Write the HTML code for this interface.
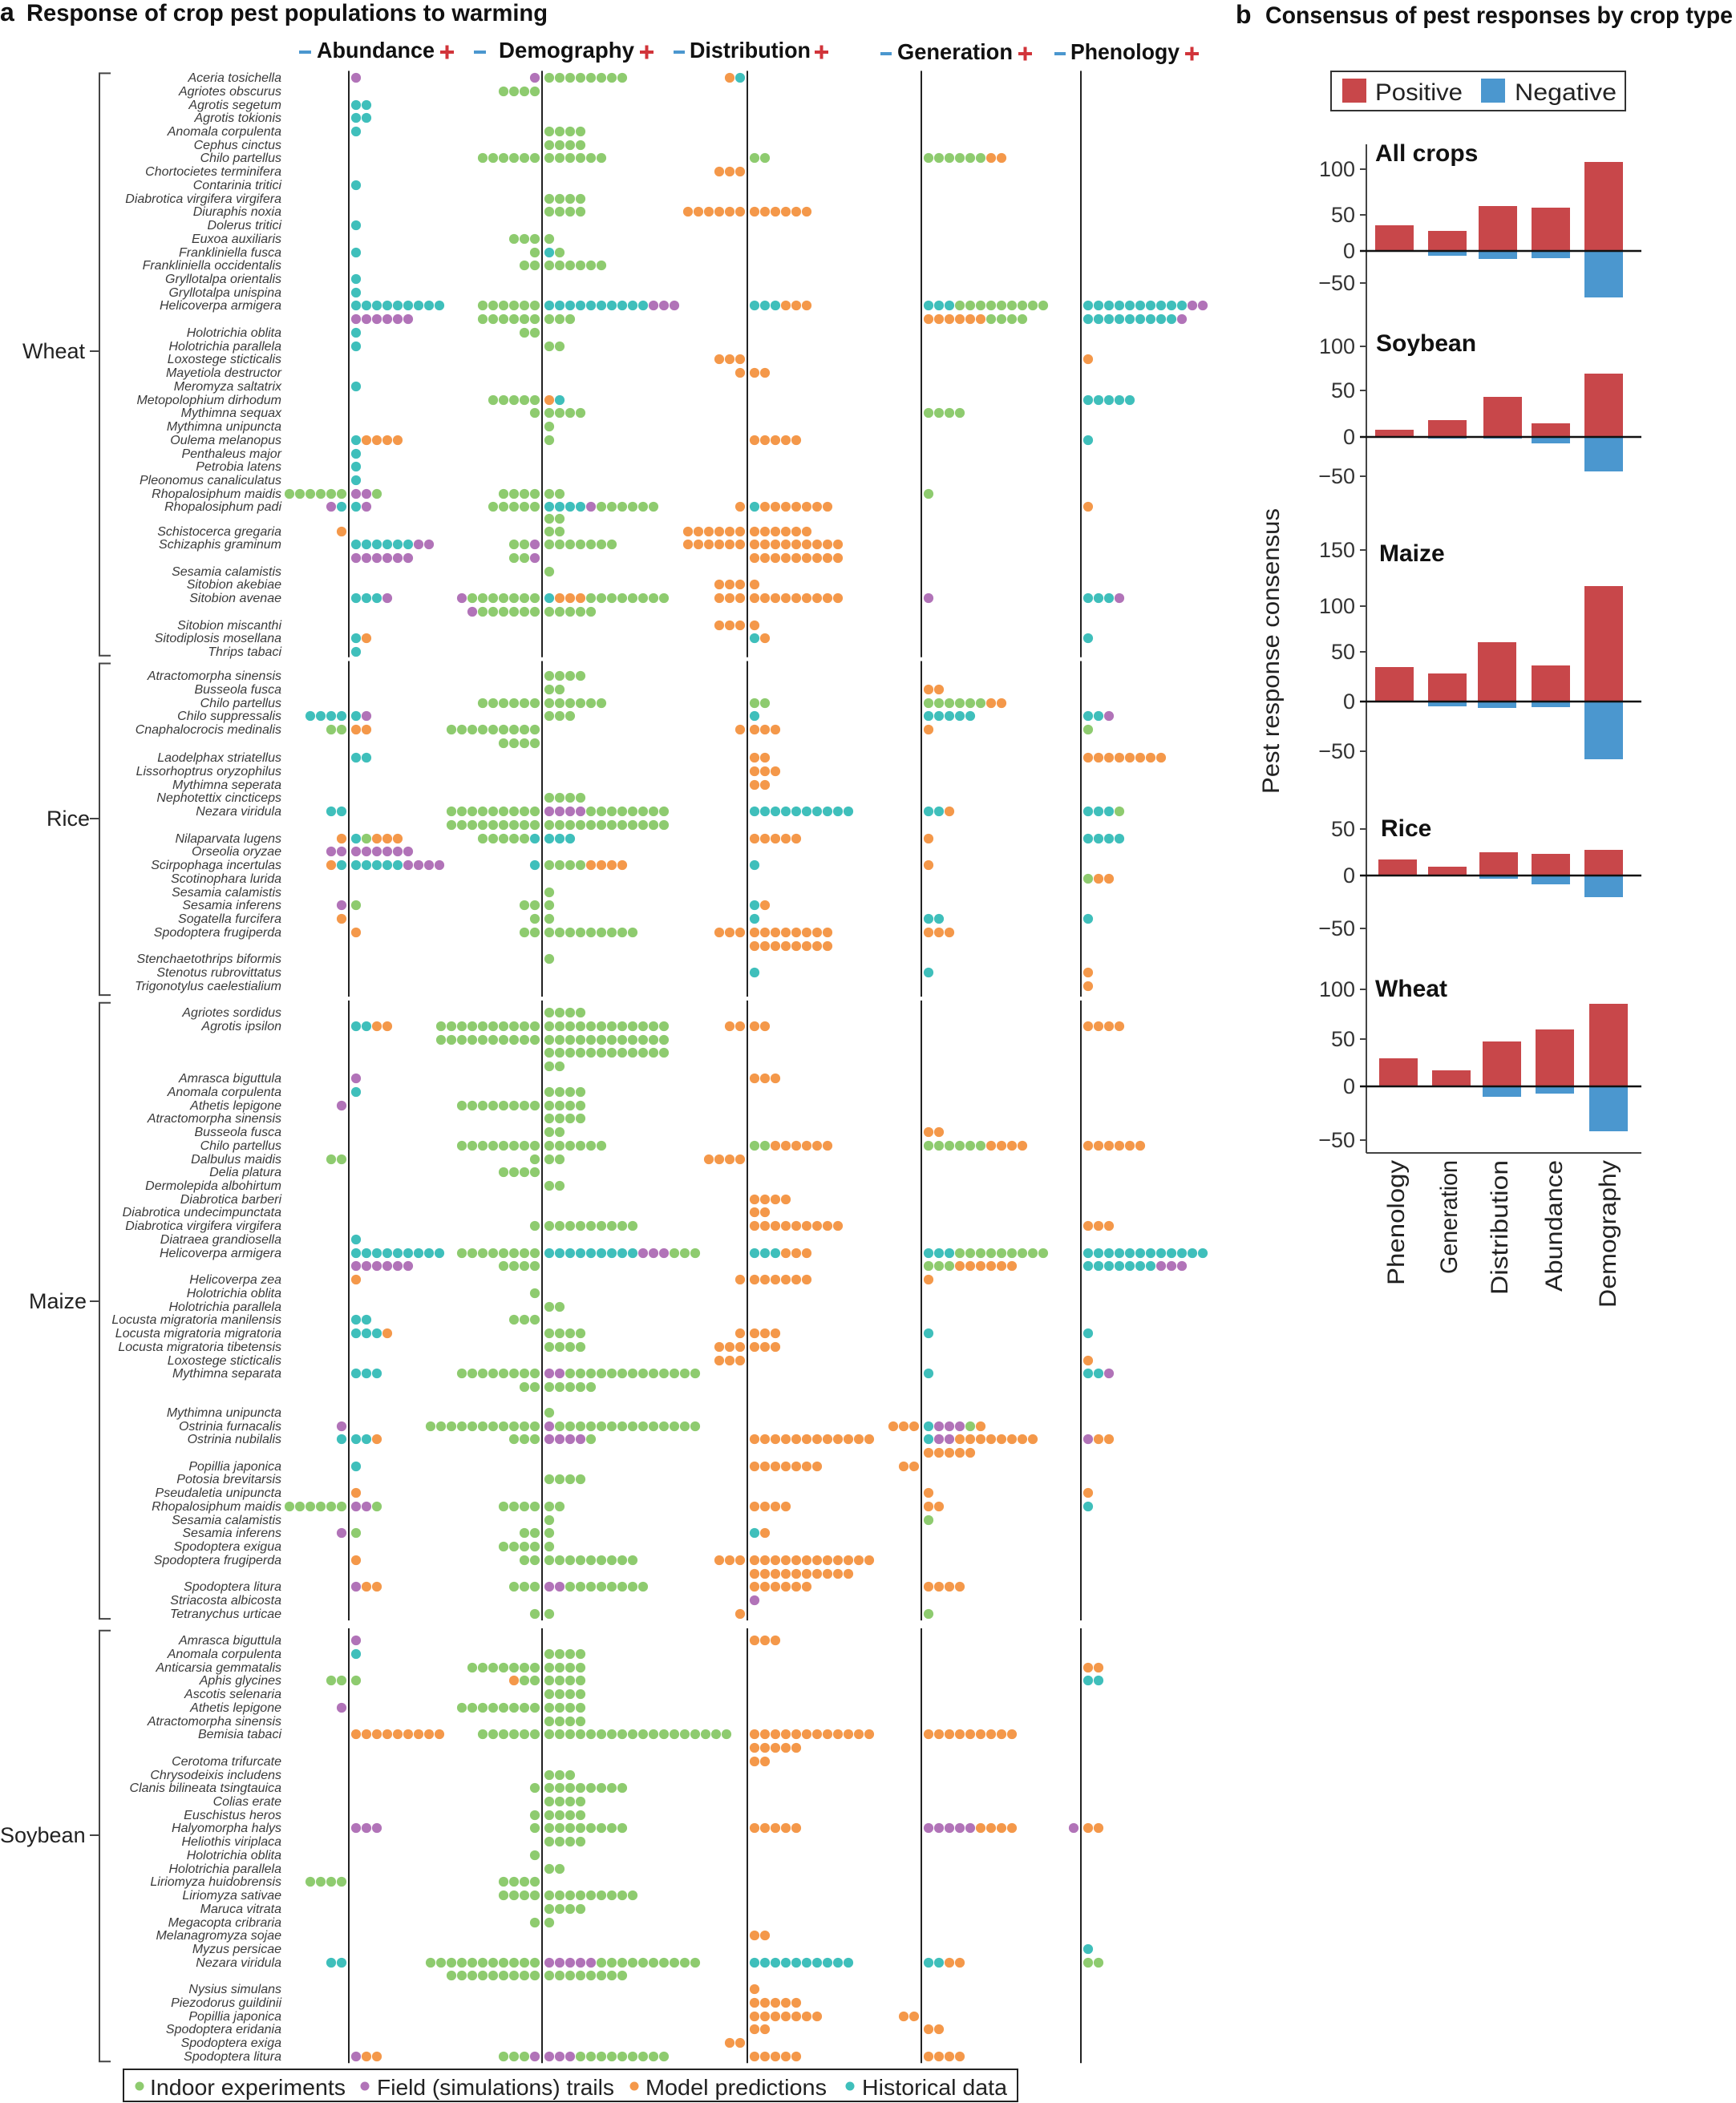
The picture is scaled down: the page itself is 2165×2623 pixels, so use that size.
<!DOCTYPE html>
<html><head><meta charset="utf-8">
<style>
html,body{margin:0;padding:0;background:#fff;}
svg{display:block;font-family:"Liberation Sans",sans-serif;}
</style></head>
<body>
<svg id="s" width="2165" height="2623" viewBox="0 0 2165 2623" xmlns="http://www.w3.org/2000/svg">
<text x="0" y="26" font-size="32" font-weight="bold" fill="#111">a</text>
<text x="33" y="26" font-size="30" font-weight="bold" fill="#111" textLength="650" lengthAdjust="spacingAndGlyphs">Response of crop pest populations to warming</text>
<text x="1541" y="29" font-size="32" font-weight="bold" fill="#111">b</text>
<text x="1578" y="29" font-size="30" font-weight="bold" fill="#111" textLength="583" lengthAdjust="spacingAndGlyphs">Consensus of pest responses by crop type</text>

<g font-size="28" font-weight="bold" fill="#111">
<rect x="373" y="63" width="15" height="4" fill="#4b97cf"/>
<text x="395" y="72" textLength="147" lengthAdjust="spacingAndGlyphs">Abundance</text>
<rect x="549" y="63" width="17" height="4" fill="#d1343a"/><rect x="555.5" y="56.5" width="4" height="17" fill="#d1343a"/>
<rect x="591" y="63" width="15" height="4" fill="#4b97cf"/>
<text x="622" y="72" textLength="169" lengthAdjust="spacingAndGlyphs">Demography</text>
<rect x="798" y="63" width="17" height="4" fill="#d1343a"/><rect x="804.5" y="56.5" width="4" height="17" fill="#d1343a"/>
<rect x="840" y="63" width="14" height="4" fill="#4b97cf"/>
<text x="860" y="72" textLength="151" lengthAdjust="spacingAndGlyphs">Distribution</text>
<rect x="1016" y="63" width="17" height="4" fill="#d1343a"/><rect x="1022.5" y="56.5" width="4" height="17" fill="#d1343a"/>
<rect x="1098" y="65" width="14" height="4" fill="#4b97cf"/>
<text x="1119" y="74" textLength="144" lengthAdjust="spacingAndGlyphs">Generation</text>
<rect x="1270" y="65" width="17" height="4" fill="#d1343a"/><rect x="1276.5" y="58.5" width="4" height="17" fill="#d1343a"/>
<rect x="1315" y="65" width="14" height="4" fill="#4b97cf"/>
<text x="1335" y="74" textLength="136" lengthAdjust="spacingAndGlyphs">Phenology</text>
<rect x="1478" y="65" width="17" height="4" fill="#d1343a"/><rect x="1484.5" y="58.5" width="4" height="17" fill="#d1343a"/>
</g>

<g id="dots"></g>

<g font-size="27" fill="#222">
<text x="28" y="447">Wheat</text><rect x="112" y="437" width="12" height="2" fill="#444"/>
<text x="58" y="1030">Rice</text><rect x="112" y="1020" width="12" height="2" fill="#444"/>
<text x="36" y="1632">Maize</text><rect x="112" y="1622" width="12" height="2" fill="#444"/>
<text x="0" y="2298">Soybean</text><rect x="112" y="2288" width="12" height="2" fill="#444"/>
</g>

<rect x="154" y="2581" width="1115" height="40" fill="#fff" stroke="#222" stroke-width="2"/>
<g font-size="28" fill="#222">
<circle cx="174" cy="2602" r="5.5" fill="#8ecb6f"/><text x="187" y="2613" textLength="244" lengthAdjust="spacingAndGlyphs">Indoor experiments</text>
<circle cx="455" cy="2602" r="5.5" fill="#b173b8"/><text x="470" y="2613" textLength="296" lengthAdjust="spacingAndGlyphs">Field (simulations) trails</text>
<circle cx="791" cy="2602" r="5.5" fill="#f4984a"/><text x="805" y="2613" textLength="226" lengthAdjust="spacingAndGlyphs">Model predictions</text>
<circle cx="1060" cy="2602" r="5.5" fill="#3fbfbb"/><text x="1075" y="2613" textLength="181" lengthAdjust="spacingAndGlyphs">Historical data</text>
</g>

<rect x="1660" y="89" width="367" height="49" fill="#fff" stroke="#333" stroke-width="2"/>
<rect x="1674" y="98" width="30" height="30" fill="#c8474a"/>
<text x="1715" y="125" font-size="30" fill="#222" textLength="109" lengthAdjust="spacingAndGlyphs">Positive</text>
<rect x="1847" y="98" width="30" height="30" fill="#4b97cf"/>
<text x="1889" y="125" font-size="30" fill="#222" textLength="127" lengthAdjust="spacingAndGlyphs">Negative</text>

<g id="bars"></g>

<text transform="translate(1595,812) rotate(-90)" text-anchor="middle" font-size="30" fill="#222" textLength="356" lengthAdjust="spacingAndGlyphs">Pest response consensus</text>
</svg>
<script>
var NS="http://www.w3.org/2000/svg";
function el(p,t,a,txt){var e=document.createElementNS(NS,t);for(var k in a)e.setAttribute(k,a[k]);if(txt!==undefined)e.textContent=txt;p.appendChild(e);return e;}
var C={G:"#8ecb6f",P:"#b173b8",O:"#f4984a",T:"#3fbfbb"};
var L={a:435,d:676,i:932,g:1149,p:1348};
var groups=[
{y0:57,y1:487,rows:[
[58,"Aceria tosichella","A:P d:P D:GGGGGGGG i:OT"],
[68,"Agriotes obscurus","d:GGGG"],
[78,"Agrotis segetum","A:TT"],
[88,"Agrotis tokionis","A:TT"],
[98,"Anomala corpulenta","A:T D:GGGG"],
[108,"Cephus cinctus","D:GGGG"],
[118,"Chilo partellus","d:GGGGGG D:GGGGGG I:GG G:GGGGGGOO"],
[128,"Chortocietes terminifera","i:OOO"],
[138,"Contarinia tritici","A:T"],
[148,"Diabrotica virgifera virgifera","D:GGGG"],
[158,"Diuraphis noxia","D:GGGG i:OOOOOO I:OOOOOO"],
[168,"Dolerus tritici","A:T"],
[178,"Euxoa auxiliaris","d:GGG D:G"],
[188,"Frankliniella fusca","A:T d:G D:TG"],
[198,"Frankliniella occidentalis","d:GG D:GGGGGG"],
[208,"Gryllotalpa orientalis","A:T"],
[218,"Gryllotalpa unispina","A:T"],
[228,"Helicoverpa armigera","A:TTTTTTTTT d:GGGGGG D:TTTTTTTTTTPPP I:TTTOOO G:TTTGGGGGGGGG P:TTTTTTTTTTPP"],
[238,"","A:PPPPPP d:GGGGGG D:GGG G:OOOOOOGGGG P:TTTTTTTTTP"],
[248,"Holotrichia oblita","A:T d:GG"],
[258,"Holotrichia parallela","A:T D:GG"],
[268,"Loxostege sticticalis","i:OOO P:O"],
[278,"Mayetiola destructor","i:O I:OO"],
[288,"Meromyza saltatrix","A:T"],
[298,"Metopolophium dirhodum","d:GGGGG D:OT P:TTTTT"],
[308,"Mythimna sequax","d:G D:GGGG G:GGGG"],
[318,"Mythimna unipuncta","D:G"],
[328,"Oulema melanopus","A:TOOOO D:G I:OOOOO P:T"],
[338,"Penthaleus major","A:T"],
[348,"Petrobia latens","A:T"],
[358,"Pleonomus canaliculatus","A:T"],
[368,"Rhopalosiphum maidis","a:GGGGGG A:PPG d:GGGG D:GG G:G"],
[378,"Rhopalosiphum padi","a:PT A:TP d:GGGGG D:TTTTPGGGGGG i:O I:TOOOOOOO P:O"],
[387,"","D:GG"],
[396,"Schistocerca gregaria","a:O D:GG i:OOOOOO I:OOOOOO"],
[406,"Schizaphis graminum","A:TTTTTTPP d:GGP D:GGGGGGG i:OOOOOO I:OOOOOOOOO"],
[416,"","A:PPPPPP d:GGP I:OOOOOOOOO"],
[426,"Sesamia calamistis","D:G"],
[436,"Sitobion akebiae","i:OOO I:O"],
[446,"Sitobion avenae","A:TTTP d:PGGGGGGG D:TOOOGGGGGGGG i:OOO I:OOOOOOOOO G:P P:TTTP"],
[456,"","d:PGGGGGG D:GGGGG"],
[466,"Sitobion miscanthi","i:OOO I:O"],
[476,"Sitodiplosis mosellana","A:TO I:TO P:T"],
[486,"Thrips tabaci","A:T"]]},
{y0:497,y1:740,rows:[
[504,"Atractomorpha sinensis","D:GGGG"],
[514,"Busseola fusca","D:GG G:OO"],
[524,"Chilo partellus","d:GGGGGG D:GGGGGG I:GG G:GGGGGGOO"],
[534,"Chilo suppressalis","a:TTTT A:TP D:GGG I:T G:TTTTT P:TTP"],
[544,"Cnaphalocrocis medinalis","a:GG A:OO d:GGGGGGGGG i:O I:OOO G:O P:G"],
[554,"","d:GGGG"],
[565,"Laodelphax striatellus","A:TT I:OO P:OOOOOOOO"],
[575,"Lissorhoptrus oryzophilus","I:OOO"],
[585,"Mythimna seperata","I:OO"],
[595,"Nephotettix cincticeps","D:GGGG"],
[605,"Nezara viridula","a:TT d:GGGGGGGGG D:PPPPGGGGGGGG I:TTTTTTTTTT G:TTO P:TTTG"],
[615,"","d:GGGGGGGGG D:GGGGGGGGGGGG"],
[625,"Nilaparvata lugens","a:O A:TGOOO d:GGGGGT D:TTT I:OOOOO G:O P:TTTT"],
[635,"Orseolia oryzae","a:PP A:PPPPPP"],
[645,"Scirpophaga incertulas","a:OT A:TTTTTPPPP d:T D:GGGGOOOO I:T G:O"],
[655,"Scotinophara lurida","P:GOO"],
[665,"Sesamia calamistis","D:G"],
[675,"Sesamia inferens","a:P A:G d:GG D:G I:TO"],
[685,"Sogatella furcifera","a:O d:G D:G I:T G:TT P:T"],
[695,"Spodoptera frugiperda","A:O d:GG D:GGGGGGGGG i:OOO I:OOOOOOOO G:OOO"],
[705,"","I:OOOOOOOO"],
[715,"Stenchaetothrips biformis","D:G"],
[725,"Stenotus rubrovittatus","I:T G:T P:O"],
[735,"Trigonotylus caelestialium","P:O"]]},
{y0:750,y1:1205,rows:[
[755,"Agriotes sordidus","D:GGGG"],
[765,"Agrotis ipsilon","A:TTOO d:GGGGGGGGGG D:GGGGGGGGGGGG i:OO I:OO P:OOOO"],
[775,"","d:GGGGGGGGGG D:GGGGGGGGGGGG"],
[785,"","D:GGGGGGGGGGGG"],
[795,"","D:GG"],
[804,"Amrasca biguttula","A:P I:OOO"],
[814,"Anomala corpulenta","A:T D:GGGG"],
[824,"Athetis lepigone","a:P d:GGGGGGGG D:GGGG"],
[834,"Atractomorpha sinensis","D:GGGG"],
[844,"Busseola fusca","D:GG G:OO"],
[854,"Chilo partellus","d:GGGGGGGG D:GGGGGG I:GGOOOOOO G:GGGGGGOOOO P:OOOOOO"],
[864,"Dalbulus maidis","a:GG d:G D:GG i:OOOO"],
[874,"Delia platura","d:GGGG"],
[884,"Dermolepida albohirtum","D:GG"],
[894,"Diabrotica barberi","I:OOOO"],
[904,"Diabrotica undecimpunctata","I:OO"],
[914,"Diabrotica virgifera virgifera","d:G D:GGGGGGGGG I:OOOOOOOOO P:OOO"],
[924,"Diatraea grandiosella","A:T"],
[934,"Helicoverpa armigera","A:TTTTTTTTT d:GGGGGGGG D:TTTTTTTTTPPPGGG I:TTTOOO G:TTTGGGGGGGGG P:TTTTTTTTTTTT"],
[944,"","A:PPPPPP d:GGGG G:GGGOOOOOO P:TTTTTTTPPP"],
[954,"Helicoverpa zea","A:O i:O I:OOOOOO G:O"],
[964,"Holotrichia oblita","d:G"],
[974,"Holotrichia parallela","D:GG"],
[984,"Locusta migratoria manilensis","A:TT d:GGG"],
[994,"Locusta migratoria migratoria","A:TTTO D:GGGG i:O I:OOO G:T P:T"],
[1004,"Locusta migratoria tibetensis","D:GGGG i:OOO I:OOO"],
[1014,"Loxostege sticticalis","i:OOO P:O"],
[1024,"Mythimna separata","A:TTT d:GGGGGGGG D:PPGGGGGGGGGGGGG G:T P:TTP"],
[1034,"","d:GG D:GGGGG"],
[1053,"Mythimna unipuncta","D:G"],
[1063,"Ostrinia furnacalis","a:P d:GGGGGGGGGGG D:PGGGGGGGGGGGGGG g:OOO G:TPPPGO"],
[1073,"Ostrinia nubilalis","a:T A:TTO d:GGG D:PPPPG I:OOOOOOOOOOOO G:TPPOOOOOOOO P:POO"],
[1083,"","G:OOOOO"],
[1093,"Popillia japonica","A:T I:OOOOOOO g:OO"],
[1103,"Potosia brevitarsis","D:GGGG"],
[1113,"Pseudaletia unipuncta","A:O G:O P:O"],
[1123,"Rhopalosiphum maidis","a:GGGGGG A:PPG d:GGGG D:GG I:OOOO G:OO P:T"],
[1133,"Sesamia calamistis","D:G G:G"],
[1143,"Sesamia inferens","a:P A:G d:GG D:G I:TO"],
[1153,"Spodoptera exigua","d:GGGG D:G"],
[1163,"Spodoptera frugiperda","A:O d:GG D:GGGGGGGGG i:OOO I:OOOOOOOOOOOO"],
[1173,"","I:OOOOOOOOOO"],
[1183,"Spodoptera litura","A:POO d:GGG D:PPGGGGGGGG I:OOOOOO G:OOOO"],
[1193,"Striacosta albicosta","I:P"],
[1203,"Tetranychus urticae","d:G D:G i:O G:G"]]},
{y0:1218,y1:1535,rows:[
[1223,"Amrasca biguttula","A:P I:OOO"],
[1233,"Anomala corpulenta","A:T D:GGGG"],
[1243,"Anticarsia gemmatalis","d:GGGGGGG D:GGGG P:OO"],
[1253,"Aphis glycines","a:GG A:G d:OGG D:GGGG P:TT"],
[1263,"Ascotis selenaria","D:GGGG"],
[1273,"Athetis lepigone","a:P d:GGGGGGGG D:GGGG"],
[1283,"Atractomorpha sinensis","D:GGGG"],
[1293,"Bemisia tabaci","A:OOOOOOOOO d:GGGGGG D:GGGGGGGGGGGGGGGGGG I:OOOOOOOOOOOO G:OOOOOOOOO"],
[1303,"","I:OOOOO"],
[1313,"Cerotoma trifurcate","I:OO"],
[1323,"Chrysodeixis includens","D:GGG"],
[1333,"Clanis bilineata tsingtauica","d:G D:GGGGGGGG"],
[1343,"Colias erate","D:GGGG"],
[1353,"Euschistus heros","d:G D:GGGG"],
[1363,"Halyomorpha halys","A:PPP d:G D:GGGGGGGG I:OOOOO G:PPPPPOOOO p:P P:OO"],
[1373,"Heliothis viriplaca","D:GGGG"],
[1383,"Holotrichia oblita","d:G"],
[1393,"Holotrichia parallela","D:GG"],
[1403,"Liriomyza huidobrensis","a:GGGG d:GGGG"],
[1413,"Liriomyza sativae","d:GGGG D:GGGGGGGGG"],
[1423,"Maruca vitrata","D:GGGG"],
[1433,"Megacopta cribraria","d:G D:G"],
[1443,"Melanagromyza sojae","I:OO"],
[1453,"Myzus persicae","P:T"],
[1463,"Nezara viridula","a:TT d:GGGGGGGGGGG D:PPPPPGGGGGGGGGG I:TTTTTTTTTT G:TTOO P:GG"],
[1473,"","d:GGGGGGGGG D:GGGGGGGG"],
[1483,"Nysius simulans","I:O"],
[1493,"Piezodorus guildinii","I:OOOOO"],
[1503,"Popillia japonica","I:OOOOOOO g:OO"],
[1513,"Spodoptera eridania","I:OO G:OO"],
[1523,"Spodoptera exiga","i:OO"],
[1533,"Spodoptera litura","A:POO d:GGGP D:PPPGGGGGGGGG I:OOOOO G:OOOO"]]}
];
var K=1.6731,g=document.getElementById("dots"),P=13.0,OFF=9;
groups.forEach(function(gr){
  var ya=gr.y0*K-4,yb=gr.y1*K+3;
  el(g,"path",{d:"M138 "+ya.toFixed(1)+"H124V"+yb.toFixed(1)+"H138",fill:"none",stroke:"#444","stroke-width":2});
  for(var k in L) el(g,"line",{x1:L[k],x2:L[k],y1:ya-3,y2:yb+2,stroke:"#222","stroke-width":2});
  gr.rows.forEach(function(r){
    var y=Math.round(r[0]*K);
    if(r[1]) el(g,"text",{x:351,y:y+5,"font-size":16,"font-style":"italic","text-anchor":"end",fill:"#3a3a3a"},r[1]);
    r[2].split(" ").forEach(function(tok){
      var key=tok[0],s=tok.slice(2),lo=key.toLowerCase(),x0=L[lo];
      var neg=(key===lo);
      for(var j=0;j<s.length;j++){
        var cx=neg? x0-OFF-P*(s.length-1-j) : x0+OFF+P*j;
        el(g,"circle",{cx:cx.toFixed(1),cy:y,r:6.1,fill:C[s[j]]});
      }
    });
  });
});
var b=document.getElementById("bars");
el(b,"line",{x1:1704,x2:1704,y1:180,y2:1438,stroke:"#444","stroke-width":2});
el(b,"line",{x1:1704,x2:2047,y1:1438,y2:1438,stroke:"#444","stroke-width":2});
var panels=[
{name:"All crops",ny:201,nx:1715,z:313,ticks:[[100,211],[50,268],[0,313],[-50,353]],pos:[281,288,257,259,202],neg:[313,319,323,322,371],x:[1715,1781,1844,1910,1976]},
{name:"Soybean",ny:438,nx:1716,z:545,ticks:[[100,432],[50,487],[0,545],[-50,594]],pos:[536,524,495,528,466],neg:[545,547,547,553,588],x:[1715,1781,1850,1910,1976]},
{name:"Maize",ny:700,nx:1720,z:875,ticks:[[150,686],[100,756],[50,813],[0,875],[-50,937]],pos:[832,840,801,830,731],neg:[875,881,883,882,947],x:[1715,1781,1843,1910,1976]},
{name:"Rice",ny:1043,nx:1722,z:1092,ticks:[[50,1034],[0,1092],[-50,1158]],pos:[1072,1081,1063,1065,1060],neg:[1092,1092,1096,1103,1119],x:[1719,1781,1845,1910,1976]},
{name:"Wheat",ny:1243,nx:1715,z:1355,ticks:[[100,1234],[50,1296],[0,1355],[-50,1422]],pos:[1320,1335,1299,1284,1252],neg:[1355,1355,1368,1364,1411],x:[1720,1786,1849,1915,1982]}
];
panels.forEach(function(p){
  el(b,"text",{x:p.nx,y:p.ny,"font-size":30,"font-weight":"bold",fill:"#111"},p.name);
  p.ticks.forEach(function(t){
    el(b,"line",{x1:1696,x2:1704,y1:t[1],y2:t[1],stroke:"#444","stroke-width":2});
    el(b,"text",{x:1690,y:t[1]+9,"font-size":27,"text-anchor":"end",fill:"#333"},String(t[0]).replace("-","\u2212"));
  });
  for(var i=0;i<5;i++){
    var x=p.x[i];
    if(p.pos[i]<p.z) el(b,"rect",{x:x,y:p.pos[i],width:48,height:p.z-p.pos[i],fill:"#c8474a"});
    if(p.neg[i]>p.z) el(b,"rect",{x:x,y:p.z,width:48,height:p.neg[i]-p.z,fill:"#4b97cf"});
  }
  el(b,"line",{x1:1696,x2:2047,y1:p.z,y2:p.z,stroke:"#111","stroke-width":2.5});
});
var xl=[["Phenology",1740,156],["Generation",1806,142],["Distribution",1869,168],["Abundance",1937,164],["Demography",2004,184]];
xl.forEach(function(a){
  el(b,"text",{transform:"translate("+(a[1]+11)+",1447) rotate(-90)","text-anchor":"end","font-size":30,fill:"#222",textLength:a[2],lengthAdjust:"spacingAndGlyphs"},a[0]);
});
</script>
</body></html>
